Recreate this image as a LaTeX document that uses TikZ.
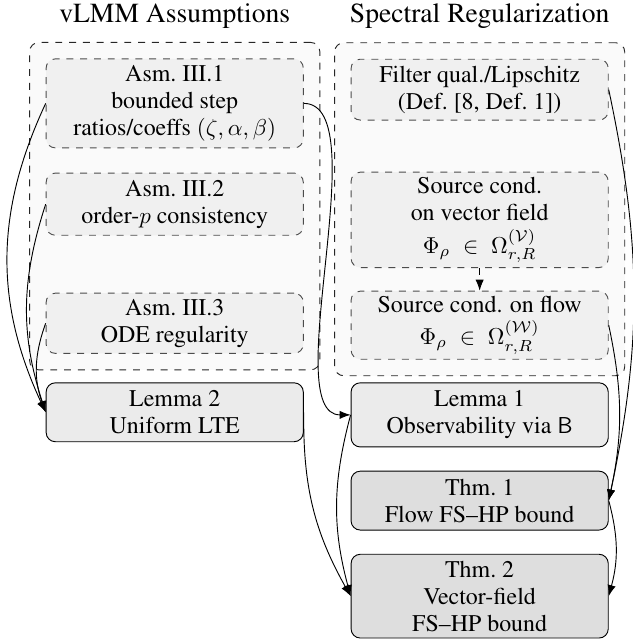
\documentclass[tikz,border=0pt]{standalone}
\usepackage[T1]{fontenc}
\renewcommand{\rmdefault}{ptm}
\usepackage{amsmath}
\usepackage{xcolor}
\usepackage{tikz}
\usetikzlibrary{arrows.meta,fit,backgrounds}

\begin{document}
\begin{tikzpicture}[
    font=\fontsize{10.4}{11.8}\selectfont,
    asmbox/.style={draw=black!70, dashed, rounded corners=4pt, fill=gray!12,
                   align=center, minimum width=3.93cm, inner sep=2pt},
    lembox/.style={draw, rounded corners=4pt, fill=gray!16,
                   align=center, minimum width=3.93cm, inner sep=2pt},
    thmbox/.style={lembox, fill=gray!26},
    grpbox/.style={draw=black!85, dashed, rounded corners=4pt, fill=gray!4, inner sep=0.245cm},
    coltitle/.style={font=\large},
    dep/.style={-{Latex}}
  ]
  \useasboundingbox (0,0) rectangle (9.658,-9.826);

  % 見出し
  \node[coltitle] (tvlmm) at (2.67,-0.24) {vLMM Assumptions};
  \node[coltitle] (tspec) at (7.33,-0.24) {Spectral Regularization};

  % 左の列 (仮定)
  \node[asmbox, minimum height=1.36cm] (asm1) at (2.67,-1.58)
    {Asm.~III.1\\ bounded step\\ ratios/coeffs $(\zeta,\alpha,\beta)$};
  \node[asmbox, minimum height=0.95cm] (asm2) at (2.67,-3.12)
    {Asm.~III.2\\ order-$p$ consistency};
  \node[asmbox, minimum height=0.92cm] (asm3) at (2.67,-4.94)
    {Asm.~III.3\\ ODE regularity};
  \node[lembox, minimum height=0.90cm] (lem2) at (2.67,-6.30)
    {Lemma 2\\ Uniform LTE};

  % 右の列 (正則化)
  \node[asmbox, minimum height=1.44cm] (srcv) at (7.33,-3.36)
    {Source cond.\\ on vector field\\[2.5pt] $\Phi_\rho \;\in\; \Omega^{(\mathcal{V})}_{r,R}$};
  \node[asmbox, minimum height=0.93cm] (filt) at (7.33,-1.37)
    {Filter qual./Lipschitz\\ (Def.~[8, Def.~1])};
  \node[asmbox, minimum height=1.04cm] (srcf) at (7.33,-4.97)
    {Source cond. on flow\\[2pt] $\Phi_\rho \;\in\; \Omega^{(\mathcal{W})}_{r,R}$};
  \node[lembox, minimum height=0.98cm] (lem1) at (7.33,-6.34)
    {Lemma 1\\ Observability via $\mathsf{B}$};
  \node[thmbox, minimum height=0.90cm] (thm1) at (7.33,-7.65)
    {Thm.~1\\ Flow FS--HP bound};
  \node[thmbox, minimum height=1.28cm] (thm2) at (7.33,-9.11)
    {Thm.~2\\ Vector-field\\ FS--HP bound};

  % グループの枠
  \begin{scope}[on background layer]
    \node[grpbox, fit=(asm1)(asm3)] (vlmm) {};
    \node[grpbox, fit=(filt)(srcf)] (spec) {};
  \end{scope}

  % 依存関係の矢印
  \draw[dep] (asm1.west) to[bend right=25] (lem2.west);
  \draw[dep] (asm2.west) to[bend right=18] (lem2.west);
  \draw[dep] (asm3.west) to[bend right=20] (lem2.west);
  \draw[dep] (asm1.east) to[out=0, in=180, looseness=0.6] (lem1.west);
  \draw[dep] (lem2.east) to[bend right=15] (thm2.west);
  \draw[dep] (lem1.west) to[bend right=15] (thm2.west);
  \draw[dep] (filt.east) to[bend left=12] (thm1.east);
  \draw[dep] (srcf.east) to[bend left=12] (thm1.east);
  \draw[dep] (thm1.east) to[bend left=15] (thm2.east);
  \draw[dep, dashed] (srcv) -- (srcf);
\end{tikzpicture}
\end{document}
